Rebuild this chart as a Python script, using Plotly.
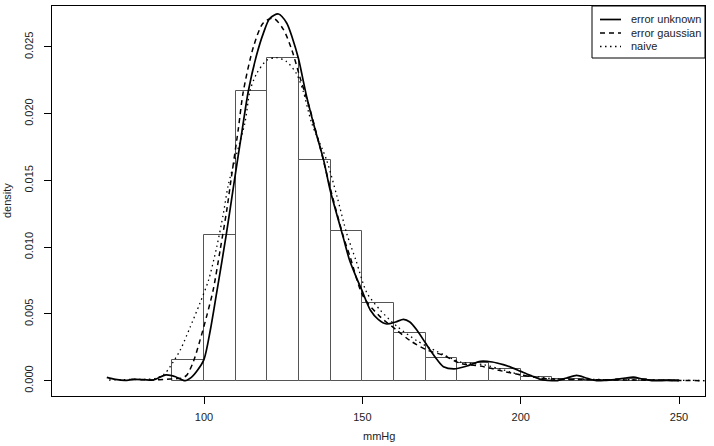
import plotly.graph_objects as go

# ---- data ----
bin_left = [90, 100, 110, 120, 130, 140, 150, 160, 170, 180, 190, 200, 210, 220, 230, 240]
bin_density = [0.00153, 0.01094, 0.02172, 0.02419, 0.01655, 0.01124, 0.00584, 0.0036,
               0.00172, 0.00135, 0.0009, 0.00025, 0.0001, 0.00005, 0.0001, 0.00005]
bin_width = 10

unk_x = [69.3, 72, 75, 78, 81, 84, 88, 91, 94, 96, 98, 100, 102, 104, 107, 109.6, 112, 114,
         116.5, 118.7, 120.8, 123.5, 126.1, 128, 129.8, 132.4, 135.1, 137.7, 139.8, 142, 144,
         146, 148, 149.8, 152.5, 155, 157.7, 160.5, 163, 165, 167.2, 170, 171.4, 173.5, 175.6,
         179, 183, 187.3, 191, 194.5, 197, 200, 203, 206, 208.5, 211.3, 214.5, 217.7, 221, 224,
         227, 230.3, 233, 235.6, 238.5, 242, 246, 250]
unk_y = [0.00025, 0.0001, 0.00002, 0.0001, 0.00008, 0.00005, 0.00043, 0.0003, 0.0, 0.00025,
         0.0008, 0.0016, 0.0038, 0.0066, 0.0109, 0.0150, 0.0187, 0.0217, 0.0243, 0.0260,
         0.02715, 0.02747, 0.0268, 0.0256, 0.02415, 0.0213, 0.0188, 0.0166, 0.0143, 0.0124,
         0.0107, 0.0090, 0.0078, 0.0068, 0.0053, 0.0046, 0.00425, 0.0044, 0.0046, 0.0044,
         0.0038, 0.0028, 0.0023, 0.0016, 0.00105, 0.00088, 0.0011, 0.00145, 0.0014, 0.0012,
         0.001, 0.0007, 0.0004, 0.00012, 0.00003, 0.0, 0.0002, 0.0004, 0.00018, 0.0, 0.00003,
         0.0001, 0.0002, 0.00027, 0.00012, 0.0, 0.00002, 0.0]

gau_x = [77, 80, 84, 88, 91, 93, 94.5, 96.6, 98.7, 100.8, 102.9, 105.1, 107.2, 108.5, 110.8,
         112.4, 115.6, 118.7, 121.9, 125.1, 127.7, 130.4, 133.5, 137.7, 140, 144, 146.1, 150.3,
         155.6, 160.8, 165.1, 170.4, 175.6, 181, 187.3, 194.6, 200.2, 205, 210, 220, 230, 240,
         250, 258]
gau_y = [0.0001, 0.00008, 0.00005, 0.0001, 0.00015, 0.0002, 0.0004, 0.0014, 0.003, 0.0048,
         0.0068, 0.0098, 0.0128, 0.0150, 0.0188, 0.02165, 0.025, 0.0268, 0.02715, 0.0263,
         0.0248, 0.02265, 0.0203, 0.0165, 0.0143, 0.0108, 0.0093, 0.0063, 0.0048, 0.0038,
         0.003, 0.0023, 0.0019, 0.0013, 0.0011, 0.0007, 0.00043, 0.00023, 0.00012, 0.00008,
         0.00006, 0.00004, 0.00002, 0.0]

nai_x = [70, 74, 78, 82, 85, 87.5, 89.3, 92.5, 95.6, 98.7, 101.4, 104, 106.1, 107.7, 112.9,
         114.5, 116.6, 119.8, 122.9, 126.1, 129.2, 131.3, 134, 138.7, 142, 145.1, 148, 151.4,
         155.6, 160.8, 167.2, 173.5, 181, 188.3, 194.6, 200.2, 205, 210, 220, 230, 240, 250, 258]
nai_y = [0.00005, 0.00008, 0.0001, 0.0001, 0.0002, 0.0005, 0.00105, 0.0023, 0.004, 0.0058,
         0.0075, 0.01, 0.0125, 0.0147, 0.0193, 0.0217, 0.023, 0.024, 0.0242, 0.0239, 0.023,
         0.0217, 0.0193, 0.01654, 0.0138, 0.011, 0.009, 0.0066, 0.0053, 0.0041, 0.003, 0.0022,
         0.0014, 0.0012, 0.0008, 0.00043, 0.0003, 0.00015, 0.0001, 0.00008, 0.00006, 0.00003,
         0.00001]

y_ticks = [0.0, 0.005, 0.010, 0.015, 0.020, 0.025]
y_ticklabels = ["0.000", "0.005", "0.010", "0.015", "0.020", "0.025"]
x_ticks = [100, 150, 200, 250]
legend_labels = ["error unknown", "error gaussian", "naive"]

FONT = "Liberation Sans, Arial, sans-serif"
TXT = "#222222"

fig = go.Figure()
fig.add_trace(go.Bar(
    x=[b + bin_width / 2 for b in bin_left], y=bin_density, width=[bin_width] * len(bin_left),
    marker=dict(color="white", line=dict(color="#555555", width=1)), showlegend=False))

fig.add_trace(go.Scatter(x=unk_x, y=unk_y, mode="lines",
                         line=dict(color="black", width=1.7, shape="spline", smoothing=0.8),
                         showlegend=False))
fig.add_trace(go.Scatter(x=gau_x, y=gau_y, mode="lines",
                         line=dict(color="black", width=1.5, dash="5px,4px", shape="spline", smoothing=0.8),
                         showlegend=False))
fig.add_trace(go.Scatter(x=nai_x, y=nai_y, mode="lines",
                         line=dict(color="black", width=1.3, dash="1.5px,3.5px", shape="spline", smoothing=0.8),
                         showlegend=False))

# manual legend (R-style box at top right)
W, H = 653.0, 390.0
left, bottom = 52.0, 396.0
def px(x):
    return (x - left) / W
def py(y):
    return (bottom - y) / H

shapes = [dict(type="rect", xref="paper", yref="paper", x0=px(592), x1=1.0, y0=py(58), y1=1.0,
               line=dict(color="black", width=1), fillcolor="white", layer="above")]
annotations = []
dashes = ["solid", "5px,4px", "1.5px,3.5px"]
widths = [1.7, 1.5, 1.3]
rows = [19.5, 33, 46.5]
for lab, d, w, r in zip(legend_labels, dashes, widths, rows):
    shapes.append(dict(type="line", xref="paper", yref="paper", x0=px(600), x1=px(621),
                       y0=py(r), y1=py(r), line=dict(color="black", width=w, dash=d), layer="above"))
    annotations.append(dict(text=lab, xref="paper", yref="paper", x=px(629), y=py(r),
                            xanchor="left", yanchor="middle", showarrow=False,
                            font=dict(family=FONT, size=11, color=TXT)))

annotations.append(dict(text="density", xref="paper", yref="paper", x=px(7), y=py(201),
                        xanchor="center", yanchor="middle", textangle=-90, showarrow=False,
                        font=dict(family=FONT, size=11, color=TXT)))
annotations.append(dict(text="mmHg", xref="paper", yref="paper", x=px(378.5), y=py(436),
                        xanchor="center", yanchor="middle", showarrow=False,
                        font=dict(family=FONT, size=11, color=TXT)))

fig.update_layout(
    width=714, height=446,
    margin=dict(l=52, r=9, t=6, b=50),
    paper_bgcolor="white", plot_bgcolor="white",
    bargap=0, barmode="overlay",
    font=dict(family=FONT, size=11, color=TXT),
    shapes=shapes, annotations=annotations,
    xaxis=dict(range=[52.0, 258.2], tickvals=x_ticks, ticks="outside", ticklen=7,
               tickcolor="black", showgrid=False, zeroline=False, showline=True,
               linecolor="black", linewidth=1, mirror=True, ticklabelstandoff=4,
               tickfont=dict(family=FONT, size=11, color=TXT)),
    yaxis=dict(range=[-0.001146, 0.02807], tickvals=y_ticks, ticktext=y_ticklabels,
               ticks="outside", ticklen=7, tickcolor="black", tickangle=-90,
               showgrid=False, zeroline=False, showline=True, linecolor="black",
               linewidth=1, mirror=True, ticklabelstandoff=7,
               tickfont=dict(family=FONT, size=11, color=TXT)),
)

fig.write_html("out.html")
